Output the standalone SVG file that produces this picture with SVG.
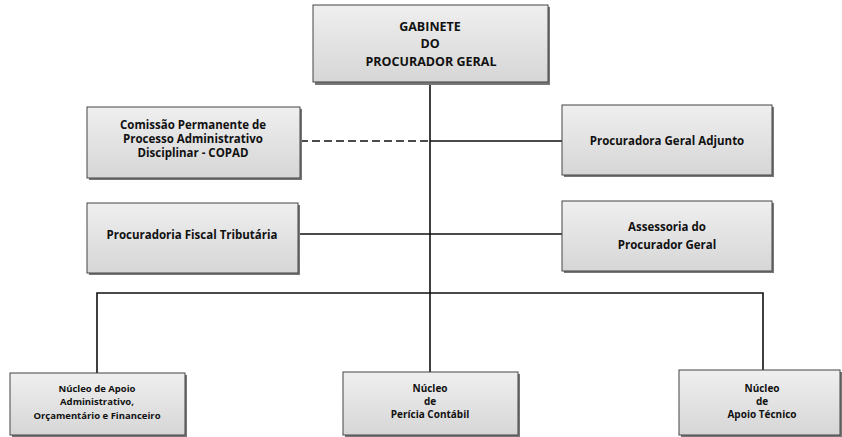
<svg xmlns="http://www.w3.org/2000/svg" width="842" height="437" viewBox="0 0 842 437">
<style>
.box{fill:url(#g);stroke:#444;stroke-width:1}
.sh{fill:#777}
.t{font-family:"Open Sans","Liberation Sans",sans-serif;font-weight:700;fill:#111;text-anchor:middle}
.l{stroke:#111;stroke-width:1.6;fill:none}
</style>
<defs>
<linearGradient id="g" x1="0" y1="0" x2="0" y2="1">
<stop offset="0" stop-color="#efefef"/>
<stop offset="1" stop-color="#d6d6d6"/>
</linearGradient>
</defs>
<rect width="842" height="437" fill="#fff"/>
<g id="connectors">
<line class="l" x1="430" y1="82" x2="430" y2="372"/>
<line class="l" x1="300" y1="141" x2="430" y2="141" stroke-dasharray="8 4"/>
<line class="l" x1="430" y1="141" x2="562" y2="141"/>
<line class="l" x1="297" y1="234" x2="563" y2="234"/>
<polyline class="l" points="97,373 97,293 763,293 763,370"/>
</g>
<g id="gabinete">
<rect class="sh" x="315" y="7" width="235" height="78"/>
<rect class="box" x="313" y="5" width="235" height="77"/>
<text class="t" font-size="12.5" x="430" y="31">GABINETE</text>
<text class="t" font-size="12.5" x="430" y="48">DO</text>
<text class="t" font-size="12.5" x="431" y="66">PROCURADOR GERAL</text>
</g>
<g id="copad">
<rect class="sh" x="89" y="109" width="213" height="71"/>
<rect class="box" x="87" y="107" width="213" height="71"/>
<text class="t" font-size="11.5" x="193" y="129">Comissão Permanente de</text>
<text class="t" font-size="11.5" x="193" y="143">Processo Administrativo</text>
<text class="t" font-size="11.5" x="193" y="157">Disciplinar - COPAD</text>
</g>
<g id="adjunto">
<rect class="sh" x="564" y="107" width="210" height="70"/>
<rect class="box" x="562" y="105" width="210" height="70"/>
<text class="t" font-size="11.5" x="667" y="145">Procuradora Geral Adjunto</text>
</g>
<g id="fiscal">
<rect class="sh" x="89" y="205" width="211" height="70"/>
<rect class="box" x="87" y="203" width="211" height="70"/>
<text class="t" font-size="11.5" x="192" y="239">Procuradoria Fiscal Tributária</text>
</g>
<g id="assessoria">
<rect class="sh" x="564" y="203" width="210" height="70"/>
<rect class="box" x="562" y="201" width="210" height="70"/>
<text class="t" font-size="11.5" x="667" y="231">Assessoria do</text>
<text class="t" font-size="11.5" x="667" y="249">Procurador Geral</text>
</g>
<g id="nucleo-apoio-adm">
<rect class="sh" x="12" y="375" width="175" height="62"/>
<rect class="box" x="10" y="373" width="175" height="62"/>
<text class="t" font-size="9.5" x="97" y="392">Núcleo de Apoio</text>
<text class="t" font-size="9.5" x="97" y="405">Administrativo,</text>
<text class="t" font-size="9.5" x="97" y="419">Orçamentário e Financeiro</text>
</g>
<g id="nucleo-pericia">
<rect class="sh" x="345" y="374" width="175" height="63"/>
<rect class="box" x="343" y="372" width="175" height="63"/>
<text class="t" font-size="10" x="430" y="392">Núcleo</text>
<text class="t" font-size="10" x="430" y="405">de</text>
<text class="t" font-size="10" x="430" y="418">Perícia Contábil</text>
</g>
<g id="nucleo-tecnico">
<rect class="sh" x="681" y="372" width="161" height="65"/>
<rect class="box" x="679" y="370" width="161" height="65"/>
<text class="t" font-size="10" x="762" y="392">Núcleo</text>
<text class="t" font-size="10" x="762" y="405">de</text>
<text class="t" font-size="10" x="762" y="418">Apoio Técnico</text>
</g>
</svg>
